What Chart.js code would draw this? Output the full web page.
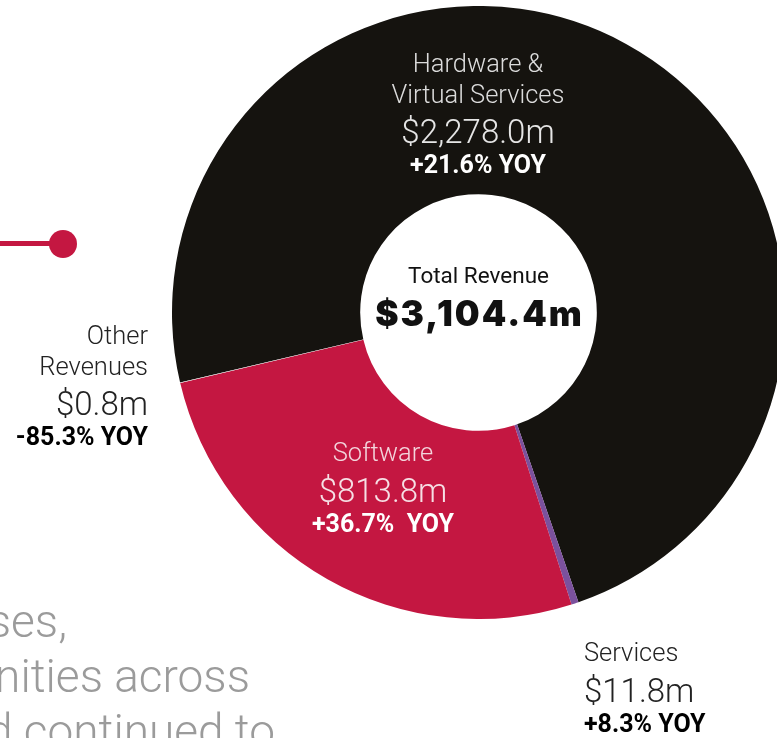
<!DOCTYPE html>
<html>
<head>
<meta charset="utf-8">
<script src="https://cdn.jsdelivr.net/npm/chart.js@4.4.1/dist/chart.umd.min.js"></script>
<style>
  html, body { margin: 0; padding: 0; }
  body { width: 777px; height: 738px; overflow: hidden; position: relative; background: #fff; }
  #wrap { position: absolute; left: 172px; top: 6px; width: 613px; height: 613px; }
  #overlay { position: absolute; left: 0; top: 0; }
</style>
</head>
<body>
<div id="wrap"><canvas id="revenueChart" width="613" height="613"></canvas></div>

<!-- conector rojo a la izquierda -->
<div style="position:absolute;left:0;top:241px;width:60px;height:5px;background:#c41741;"></div>
<div style="position:absolute;left:49px;top:230px;width:28px;height:28px;border-radius:50%;background:#c41741;"></div>

<canvas id="overlay" width="777" height="738"></canvas>

<script>
// Datos del gráfico
const categories = ['Hardware & Virtual Services', 'Services', 'Software', 'Other Revenues'];
const revenue = [2278.0, 11.8, 813.8, 0.8];
const yoyChange = ['+21.6%', '+8.3%', '+36.7% ', '-85.3%'];
const sliceColors = ['#15130f', '#7b519d', '#c41741', '#d8d8d8'];
const totalRevenue = revenue.reduce((a, b) => a + b, 0);

const fmt = v => '$' + v.toLocaleString('en-US', { minimumFractionDigits: 1, maximumFractionDigits: 1 }) + 'm';

new Chart(document.getElementById('revenueChart').getContext('2d'), {
  type: 'doughnut',
  data: {
    labels: categories,
    datasets: [{
      data: revenue,
      backgroundColor: sliceColors,
      borderWidth: 0,
      hoverOffset: 0
    }]
  },
  options: {
    responsive: false,
    animation: false,
    rotation: 256.8,
    cutout: '38.6%',
    layout: { padding: 0 },
    plugins: { legend: { display: false }, tooltip: { enabled: false } }
  },
  plugins: [{
    id: 'centerText',
    afterDraw(chart) {
      const { ctx } = chart;
      const arc = chart.getDatasetMeta(0).data[0];
      ctx.save();
      ctx.textAlign = 'center';
      ctx.fillStyle = '#111';
      ctx.font = '400 22.5px Roboto';
      ctx.fillText('Total Revenue', arc.x, arc.y - 30);
      ctx.font = '900 35px Inter';
      ctx.letterSpacing = '2px';
      ctx.fillText(fmt(totalRevenue), arc.x + 1, arc.y + 13);
      ctx.restore();
    }
  }]
});

// Etiquetas de cada segmento: posición x y líneas base (px de la página)
const labelLayout = [
  { i: 0, x: 478, align: 'center', base: [72, 103, 143, 173], dark: false, lines: ['Hardware &', 'Virtual Services'] },
  { i: 2, x: 383, align: 'center', base: [461, 502, 532], dark: false, lines: ['Software'] },
  { i: 1, x: 584, align: 'left', base: [661, 702, 732], dark: true, lines: ['Services'] },
  { i: 3, x: 148, align: 'right', base: [344, 375, 415, 445], dark: true, lines: ['Other', 'Revenues'] }
];

const ov = document.getElementById('overlay').getContext('2d');

// texto gris de fondo (párrafo recortado)
ov.fillStyle = '#9b9b9b';
ov.font = '300 46px Roboto';
ov.textAlign = 'right';
ov.fillText('ses,', 67, 637);
ov.fillText('nities across', 250, 692);
ov.fillText('d continued to', 275, 747);

labelLayout.forEach(l => {
  ov.textAlign = l.align;
  let k = 0;
  l.lines.forEach(t => {
    ov.fillStyle = l.dark ? '#222' : (l.i === 0 ? '#dcdcdc' : '#f3d5dc');
    ov.font = '300 25.5px Roboto';
    ov.fillText(t, l.x, l.base[k++]);
  });
  ov.fillStyle = l.dark ? '#222' : (l.i === 0 ? '#e6e6e6' : '#f6e0e5');
  ov.font = '300 33px Roboto';
  ov.fillText(fmt(revenue[l.i]), l.x, l.base[k++]);
  ov.fillStyle = l.dark ? '#000' : '#fff';
  ov.font = '700 25px Roboto';
  ov.fillText(yoyChange[l.i] + ' YOY', l.x, l.base[k]);
});
</script>
</body>
</html>
